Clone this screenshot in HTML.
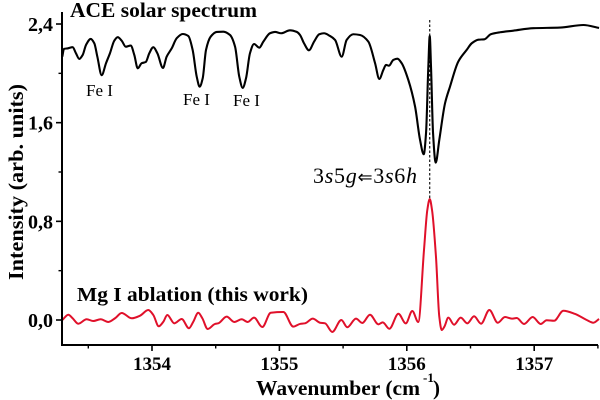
<!DOCTYPE html>
<html>
<head>
<meta charset="utf-8">
<title>Solar and Mg I ablation spectra</title>
<style>
html,body{margin:0;padding:0;background:#fff;}
svg{display:block;}
text{font-family:"Liberation Serif","DejaVu Serif",serif;fill:#000;}
.b{font-weight:bold;}
</style>
</head>
<body>
<svg id="chart" width="600" height="400" viewBox="0 0 600 400" xmlns="http://www.w3.org/2000/svg">
  <text id="title-top" class="b" x="70" y="17" font-size="21" textLength="187" lengthAdjust="spacingAndGlyphs">ACE solar spectrum</text>
  <text class="b" x="77" y="301" font-size="20" textLength="231" lengthAdjust="spacingAndGlyphs">Mg I ablation (this work)</text>
  <text x="86" y="96" font-size="17">Fe I</text>
  <text x="183" y="105" font-size="17">Fe I</text>
  <text x="233" y="106" font-size="17">Fe I</text>
  <text x="313" y="183" font-size="22" textLength="104" lengthAdjust="spacing">3<tspan font-style="italic">s</tspan>5<tspan font-style="italic">g</tspan><tspan font-family="'DejaVu Sans',sans-serif" font-size="18">⇐</tspan>3<tspan font-style="italic">s</tspan>6<tspan font-style="italic">h</tspan></text>
  <text class="b" x="256" y="395" font-size="21" textLength="164" lengthAdjust="spacingAndGlyphs">Wavenumber (cm</text>
  <text class="b" x="423" y="382" font-size="13">-1</text>
  <text class="b" x="433" y="395" font-size="21">)</text>
  <text class="b" transform="translate(23,280) rotate(-90)" x="0" y="0" font-size="21" textLength="196" lengthAdjust="spacingAndGlyphs">Intensity (arb. units)</text>
</svg>
<script>
var xMajorTicks = [1354, 1355, 1356, 1357];
var xMinorTicks = [1353.5, 1354.5, 1355.5, 1356.5, 1357.5];
var yMajorTicks = [0, 0.8, 1.6, 2.4];
var yMinorTicks = [0.4, 1.2, 2.0];
var yTickLabels = ['0,0', '0,8', '1,6', '2,4'];
var lineCenter = 1356.18;
var solarWave = [1353.296,1353.309,1353.341,1353.377,1353.403,1353.429,1353.456,1353.482,1353.519,1353.547,1353.571,1353.605,1353.639,1353.670,1353.704,1353.731,1353.762,1353.794,1353.833,1353.861,1353.888,1353.919,1353.951,1353.979,1354.010,1354.042,1354.086,1354.115,1354.155,1354.194,1354.241,1354.285,1354.319,1354.351,1354.374,1354.398,1354.424,1354.461,1354.508,1354.560,1354.612,1354.652,1354.685,1354.712,1354.738,1354.769,1354.801,1354.842,1354.874,1354.926,1354.966,1355.013,1355.083,1355.136,1355.162,1355.193,1355.232,1355.272,1355.313,1355.350,1355.397,1355.437,1355.489,1355.528,1355.580,1355.633,1355.698,1355.751,1355.784,1355.816,1355.837,1355.860,1355.894,1355.926,1355.960,1356.012,1356.065,1356.104,1356.133,1356.151,1356.169,1356.180,1356.190,1356.206,1356.227,1356.255,1356.300,1356.339,1356.404,1356.470,1356.510,1356.562,1356.609,1356.659,1356.732,1356.836,1356.993,1357.203,1357.386,1357.509];
var solarIntensity = [2.135,2.198,2.203,2.212,2.163,2.117,2.149,2.230,2.279,2.244,2.135,1.985,2.082,2.163,2.265,2.293,2.265,2.216,2.225,2.149,2.041,2.082,2.092,2.163,2.212,2.163,2.044,2.135,2.203,2.285,2.319,2.303,2.190,1.973,1.892,1.960,2.190,2.298,2.336,2.338,2.311,2.216,1.973,1.882,1.960,2.163,2.238,2.208,2.257,2.325,2.336,2.325,2.349,2.336,2.311,2.244,2.187,2.257,2.317,2.325,2.303,2.271,2.135,2.271,2.317,2.311,2.257,2.082,1.955,2.028,2.068,2.062,2.109,2.119,2.082,1.946,1.730,1.460,1.344,1.517,2.054,2.303,2.054,1.517,1.276,1.460,1.757,1.892,2.095,2.190,2.244,2.273,2.276,2.317,2.333,2.346,2.366,2.371,2.392,2.368];
var ablationWave = [1353.296,1353.343,1353.377,1353.421,1353.487,1353.539,1353.597,1353.657,1353.710,1353.762,1353.841,1353.906,1353.971,1354.010,1354.053,1354.089,1354.120,1354.175,1354.233,1354.290,1354.324,1354.363,1354.395,1354.437,1354.495,1354.520,1354.586,1354.646,1354.704,1354.751,1354.801,1354.866,1354.932,1355.031,1355.109,1355.162,1355.201,1355.262,1355.319,1355.358,1355.415,1355.486,1355.533,1355.601,1355.651,1355.711,1355.777,1355.811,1355.863,1355.934,1355.992,1356.043,1356.090,1356.135,1356.161,1356.180,1356.198,1356.229,1356.255,1356.274,1356.295,1356.326,1356.371,1356.423,1356.475,1356.528,1356.583,1356.648,1356.714,1356.771,1356.824,1356.863,1356.920,1356.988,1357.051,1357.098,1357.156,1357.229,1357.321,1357.412,1357.464,1357.509];
var ablationIntensity = [0,0.043,0.014,-0.030,0.006,-0.008,0.006,-0.016,0.014,0.057,0.014,0.035,0.081,0.041,-0.051,-0.014,0.041,-0.027,0.008,-0.067,-0.014,0.059,0.014,-0.073,-0.032,-0.027,0.027,-0.016,0.006,-0.016,0.019,-0.057,0.059,0.065,-0.054,-0.032,-0.027,0.011,-0.022,-0.027,-0.097,0,-0.059,0.011,-0.024,0.043,-0.035,-0.019,-0.071,0.051,-0.027,0.073,-0.016,0.568,0.892,0.981,0.892,0.513,0.027,-0.081,-0.054,0.019,-0.038,0.019,-0.027,0.030,-0.030,0.081,-0.022,0.024,0.011,0.016,-0.032,0.024,-0.032,-0.002,-0.006,0.075,0.049,0,-0.022,0.008];

var NS = 'http://www.w3.org/2000/svg';
var svg = document.getElementById('chart');
function xScale(w) { return 152 + (w - 1354) * 127.4; }
function yScale(v) { return 320 - v * 123.33; }
var axisLeft = 62, axisBottom = 345, axisTop = 12, axisRight = 598;

function add(tag, attrs) {
  var el = document.createElementNS(NS, tag);
  for (var k in attrs) el.setAttribute(k, attrs[k]);
  svg.appendChild(el);
  return el;
}
function smoothPath(xs, ys) {
  var p = xs.map(function (w, i) { return [xScale(w), yScale(ys[i])]; });
  var n = p.length, slope = [], tan = [], i;
  for (i = 0; i < n - 1; i++) slope.push((p[i + 1][1] - p[i][1]) / (p[i + 1][0] - p[i][0]));
  tan[0] = slope[0];
  tan[n - 1] = slope[n - 2];
  for (i = 1; i < n - 1; i++) {
    if (slope[i - 1] * slope[i] <= 0) { tan[i] = 0; continue; }
    var h0 = p[i][0] - p[i - 1][0], h1 = p[i + 1][0] - p[i][0];
    var w1 = 2 * h1 + h0, w2 = h1 + 2 * h0;
    tan[i] = (w1 + w2) / (w1 / slope[i - 1] + w2 / slope[i]);
  }
  var d = 'M' + p[0][0].toFixed(2) + ' ' + p[0][1].toFixed(2);
  for (i = 0; i < n - 1; i++) {
    var h = (p[i + 1][0] - p[i][0]) / 3;
    d += 'C' + (p[i][0] + h).toFixed(2) + ' ' + (p[i][1] + tan[i] * h).toFixed(2) + ' ' +
         (p[i + 1][0] - h).toFixed(2) + ' ' + (p[i + 1][1] - tan[i + 1] * h).toFixed(2) + ' ' +
         p[i + 1][0].toFixed(2) + ' ' + p[i + 1][1].toFixed(2);
  }
  return d;
}

var guide = add('line', {x1: xScale(lineCenter), x2: xScale(lineCenter), y1: 20, y2: 200, stroke: '#000', 'stroke-width': 1.1, 'stroke-dasharray': '2.5 2'});



var solar = add('path', {d: smoothPath(solarWave, solarIntensity), fill: 'none', stroke: '#000', 'stroke-width': 2.1, 'stroke-linejoin': 'round'});



var ablation = add('path', {d: smoothPath(ablationWave, ablationIntensity), fill: 'none', stroke: '#e0102a', 'stroke-width': 2, 'stroke-linejoin': 'round'});



var yAxis = add('line', {x1: axisLeft, x2: axisLeft, y1: axisTop, y2: axisBottom + 1, stroke: '#000', 'stroke-width': 2});



var xAxis = add('line', {x1: axisLeft - 1, x2: axisRight, y1: axisBottom, y2: axisBottom, stroke: '#000', 'stroke-width': 2});



xMajorTicks.forEach(function (w) {
  var t = add('line', {x1: xScale(w), x2: xScale(w), y1: axisBottom, y2: axisBottom + 6, stroke: '#000', 'stroke-width': 1.6});
  
  
  var l = add('text', {x: xScale(w), y: 370, 'text-anchor': 'middle', 'font-size': 19, 'class': 'b'});
  l.textContent = String(w);
  
  
});
xMinorTicks.forEach(function (w) {
  var t = add('line', {x1: xScale(w), x2: xScale(w), y1: axisBottom, y2: axisBottom + 3.5, stroke: '#000', 'stroke-width': 1.4});
  
  
});
yMajorTicks.forEach(function (v, i) {
  var t = add('line', {x1: axisLeft - 6, x2: axisLeft, y1: yScale(v), y2: yScale(v), stroke: '#000', 'stroke-width': 1.6});
  
  
  var l = add('text', {x: 53, y: yScale(v) + 7, 'text-anchor': 'end', 'font-size': 20, 'class': 'b'});
  l.textContent = yTickLabels[i];
  
  
});
yMinorTicks.forEach(function (v) {
  var t = add('line', {x1: axisLeft - 3.5, x2: axisLeft, y1: yScale(v), y2: yScale(v), stroke: '#000', 'stroke-width': 1.4});
  
  
});
</script>
</body>
</html>
